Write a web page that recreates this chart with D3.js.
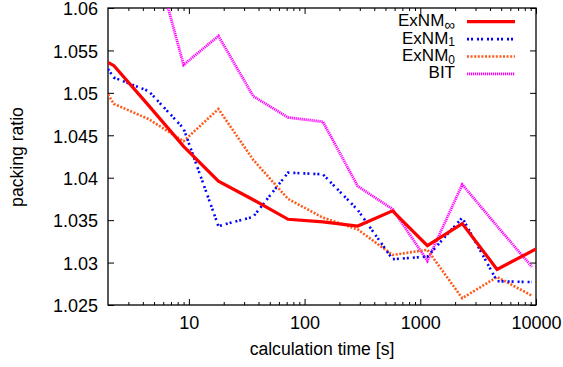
<!DOCTYPE html>
<html>
<head>
<meta charset="utf-8">
<script src="https://cdn.jsdelivr.net/npm/d3@7"></script>
<style>
  body { margin: 0; background: #fff; }
  svg { display: block; font-family: "Liberation Sans", Arial, sans-serif; }
</style>
</head>
<body>
<svg width="563" height="367"></svg>
<script>
// calculation times (s) of the samples
const time = [2, 2.25, 4.5, 9, 18, 36, 72, 144, 288, 576, 1152, 2304, 4608, 9216];
const timeInf = [2, 2.25, 4.5, 9, 18, 36, 72, 144, 288, 576, 1152, 2304, 4608, 10000];

const exnmInf = [1.0536, 1.0532, 1.0485, 1.0437, 1.0396, 1.0374, 1.0351, 1.0348, 1.0343, 1.0361, 1.0320, 1.0346, 1.0292, 1.0316];
const exnm1   = [1.0528, 1.0518, 1.0502, 1.0458, 1.0343, 1.0354, 1.0406, 1.0404, 1.0362, 1.0304, 1.0307, 1.0353, 1.0278, 1.0277];
const exnm0   = [1.0498, 1.0487, 1.0469, 1.0443, 1.0481, 1.0421, 1.0375, 1.0353, 1.0339, 1.0309, 1.0315, 1.0258, 1.0283, 1.0261];
const bit     = [null, null, 1.0684, 1.0533, 1.0567, 1.0496, 1.0471, 1.0466, 1.0390, 1.0363, 1.0302, 1.0392, 1.0343, 1.0295];

const yTicks = [1.025, 1.03, 1.035, 1.04, 1.045, 1.05, 1.055, 1.06];
const xTicks = [10, 100, 1000, 10000];

const svg = d3.select('svg');
const mLeft = 108, mRight = 536, mTop = 8, mBottom = 305;

const x = d3.scaleLog().domain([2, 10000]).range([mLeft, mRight]);
const y = d3.scaleLinear().domain([1.025, 1.06]).range([mBottom, mTop]);

// minor ticks for the log axis
const xMinor = [];
[1, 10, 100, 1000].forEach(d => {
    for (let k = 2; k <= 9; k++) {
        const v = d * k;
        if (v > 2 && v < 10000) xMinor.push(v);
    }
});

const fmt = d => String(+d.toFixed(3));

function styleAxis(g) {
    g.select('.domain').remove();
    g.selectAll('line').attr('stroke', '#000').attr('stroke-width', 1);
    g.selectAll('text').attr('font-size', 18).attr('fill', '#000');
    g.attr('font-family', null);
}

// bottom
svg.append('g').attr('transform', `translate(0,${mBottom})`)
    .call(d3.axisBottom(x).tickValues(xTicks).tickFormat(d3.format('d')).tickSize(-6).tickPadding(11))
    .call(styleAxis);
svg.append('g').attr('transform', `translate(0,${mBottom})`)
    .call(d3.axisBottom(x).tickValues(xMinor).tickFormat('').tickSize(-3))
    .call(styleAxis);
// top mirror
svg.append('g').attr('transform', `translate(0,${mTop})`)
    .call(d3.axisTop(x).tickValues(xTicks).tickFormat('').tickSize(-6))
    .call(styleAxis);
svg.append('g').attr('transform', `translate(0,${mTop})`)
    .call(d3.axisTop(x).tickValues(xMinor).tickFormat('').tickSize(-3))
    .call(styleAxis);
// left
svg.append('g').attr('transform', `translate(${mLeft},0)`)
    .call(d3.axisLeft(y).tickValues(yTicks).tickFormat(fmt).tickSize(-6).tickPadding(10))
    .call(styleAxis)
    .selectAll('text').attr('dy', '0.38em');
// right mirror
svg.append('g').attr('transform', `translate(${mRight},0)`)
    .call(d3.axisRight(y).tickValues(yTicks).tickFormat('').tickSize(-6))
    .call(styleAxis);

// frame
svg.append('rect')
    .attr('x', mLeft).attr('y', mTop)
    .attr('width', mRight - mLeft).attr('height', mBottom - mTop)
    .attr('fill', 'none').attr('stroke', '#000').attr('stroke-width', 1.3);

svg.append('defs').append('clipPath').attr('id', 'plot')
    .append('rect').attr('x', mLeft).attr('y', mTop)
    .attr('width', mRight - mLeft).attr('height', mBottom - mTop);

const series = [
    { name: 'ExNM', sub: '∞', xs: timeInf, ys: exnmInf, color: '#ff0000', width: 3.2, dash: null },
    { name: 'ExNM', sub: '1', xs: time, ys: exnm1, color: '#0000ff', width: 2.6, dash: '2,2,2,4' },
    { name: 'ExNM', sub: '0', xs: time, ys: exnm0, color: '#ff5a1a', width: 2.6, dash: '2,1.6' },
    { name: 'BIT', sub: '', xs: time, ys: bit, color: '#ff00ff', width: 2.8, dash: '1.2,0.8' }
];

const line = d3.line()
    .defined(d => d[1] != null)
    .x(d => x(d[0]))
    .y(d => y(d[1]));

const plot = svg.append('g').attr('clip-path', 'url(#plot)');

// draw in reverse so the red line ends on top
series.slice().reverse().forEach(s => {
    plot.append('path')
        .datum(s.xs.map((t, i) => [t, s.ys[i]]))
        .attr('d', line)
        .attr('fill', 'none')
        .attr('stroke', s.color)
        .attr('stroke-width', s.width)
        .attr('stroke-dasharray', s.dash)
        .attr('stroke-linejoin', 'miter');
});

// legend
const legend = svg.append('g');
series.forEach((s, i) => {
    const ly = 21.7 + i * 17.4;
    legend.append('line')
        .attr('x1', 467).attr('x2', 515)
        .attr('y1', ly).attr('y2', ly)
        .attr('stroke', s.color)
        .attr('stroke-width', s.width)
        .attr('stroke-dasharray', s.dash);
    const t = legend.append('text')
        .attr('x', 455).attr('y', ly + 4.5)
        .attr('text-anchor', 'end')
        .attr('font-size', 17);
    t.append('tspan').text(s.name);
    if (s.sub) {
        t.append('tspan')
            .attr('dy', s.sub === '∞' ? 4 : 2.5)
            .attr('font-size', s.sub === '∞' ? 15 : 12)
            .text(s.sub);
    }
});

// axis titles
svg.append('text')
    .attr('x', (mLeft + mRight) / 2).attr('y', 355)
    .attr('text-anchor', 'middle')
    .attr('font-size', 17.6)
    .text('calculation time [s]');

svg.append('text')
    .attr('transform', `translate(23,157) rotate(-90)`)
    .attr('text-anchor', 'middle')
    .attr('font-size', 17.6)
    .text('packing ratio');
</script>
</body>
</html>
